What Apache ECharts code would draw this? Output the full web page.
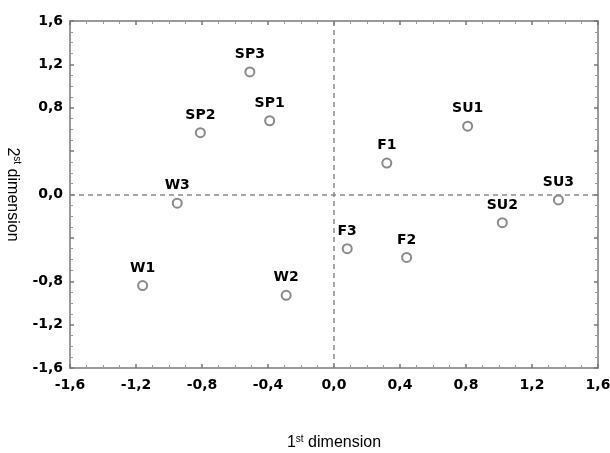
<!DOCTYPE html>
<html><head><meta charset="utf-8">
<script src="https://cdn.jsdelivr.net/npm/echarts@6/dist/echarts.min.js"></script>
<style>html,body{margin:0;padding:0;background:#fff}#c{width:610px;height:453px}</style>
</head><body><div id="c"></div>
<script>
var names = ['SP3','SP1','SP2','W3','W1','W2','F3','F2','F1','SU1','SU2','SU3'];
var dim1 = [-0.51,-0.39,-0.81,-0.95,-1.16,-0.29,0.08,0.44,0.32,0.81,1.02,1.36];
var dim2 = [1.13,0.68,0.57,-0.08,-0.84,-0.93,-0.50,-0.58,0.29,0.63,-0.26,-0.05];
var xTicks = ['-1,6','-1,2','-0,8','-0,4','0,0','0,4','0,8','1,2','1,6'];
var yTicks = ['-1,6','-1,2','-0,8','','0,0','','0,8','1,2','1,6'];

var data = names.map(function(n,i){return {name:n, value:[dim1[i],dim2[i]]};});
var boldFont = '"DejaVu Sans", sans-serif';
var nameFont = '"Liberation Sans", Arial, Helvetica, sans-serif';
function idx(v){ return Math.round((v + 1.6) / 0.4); }
var frameColor = '#9a9a9a';
function axisBase(){
  return {
    type:'value', min:-1.6, max:1.6, interval:0.4,
    axisLine:{show:true, onZero:false, lineStyle:{color:frameColor, width:2}},
    axisTick:{show:true, inside:true, length:4, lineStyle:{color:'#777', width:1.5}},
    minorTick:{show:true, splitNumber:4, length:3, lineStyle:{color:'#999', width:1}},
    splitLine:{show:false}
  };
}
var richName = {
  a:{fontSize:16, color:'#000', fontFamily:nameFont},
  s:{fontSize:10, color:'#000', fontFamily:nameFont, verticalAlign:'top', padding:[0,0,8,0]}
};
var xBottom = Object.assign(axisBase(), {
  position:'bottom',
  axisLabel:{color:'#000', fontWeight:'bold', fontSize:14, fontFamily:boldFont, margin:10,
    formatter:function(v){ return xTicks[idx(v)]; }},
  name:'{a|1}{s|st}{a| dimension}', nameLocation:'middle', nameGap:66,
  nameTextStyle:{rich:richName}
});
var xTop = Object.assign(axisBase(), {position:'top', axisLabel:{show:false}});
var yLeft = Object.assign(axisBase(), {
  position:'left',
  axisLabel:{color:'#000', fontWeight:'bold', fontSize:14, fontFamily:boldFont, margin:7,
    formatter:function(v){ return yTicks[idx(v)]; }},
  name:'{a|2}{s|st}{a| dimension}', nameLocation:'middle', nameGap:46, nameRotate:-90,
  nameTextStyle:{rich:richName}
});
var yRight = Object.assign(axisBase(), {position:'right', axisLabel:{show:false}});

var chart = echarts.init(document.getElementById('c'));
chart.setOption({
  animation:false,
  grid:{left:70, right:12, top:21, bottom:85, containLabel:false, outerBoundsMode:'none'},
  xAxis:[xBottom, xTop],
  yAxis:[yLeft, yRight],
  series:[{
    type:'scatter', data:data, symbol:'circle', symbolSize:9,
    itemStyle:{color:'#fff', borderColor:'#8a8a8a', borderWidth:2, opacity:1},
    label:{show:true, position:'top', distance:5, formatter:'{b}', color:'#000', fontWeight:'bold', fontSize:14, fontFamily:boldFont},
    markLine:{
      silent:true, symbol:'none', label:{show:false},
      lineStyle:{color:'#8a8a8a', type:[5,4], width:1.5},
      data:[{xAxis:0},{yAxis:0}]
    }
  }]
});
</script></body></html>
